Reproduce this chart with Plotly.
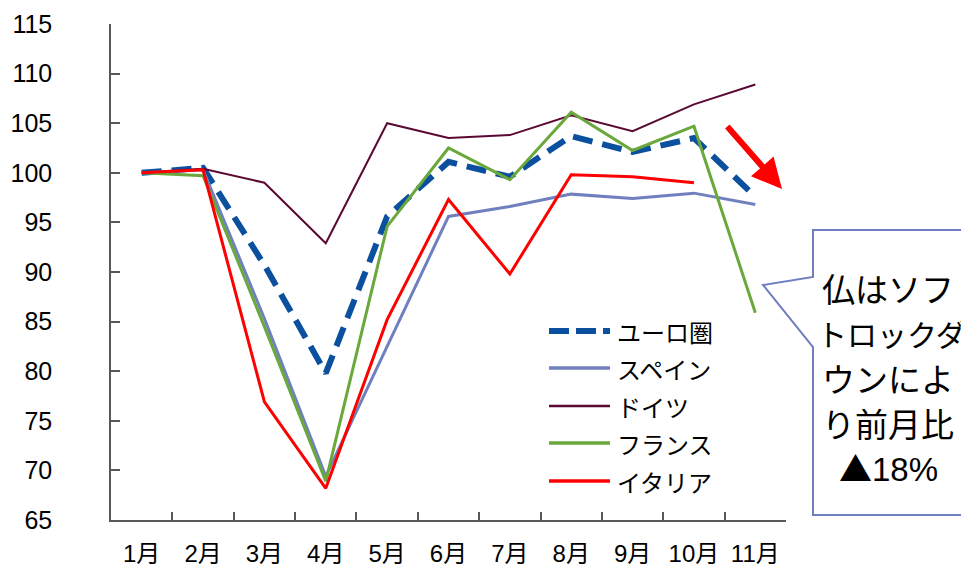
import plotly.graph_objects as go

# Monthly index, January = 100
months = ["1月", "2月", "3月", "4月", "5月", "6月", "7月", "8月", "9月", "10月", "11月"]

euro_area = [100.0, 100.5, 90.7, 79.8, 95.6, 101.1, 99.6, 103.7, 102.1, 103.5, 97.6]
spain = [100.0, 100.3, 85.3, 69.4, 82.5, 95.6, 96.6, 97.85, 97.4, 97.95, 96.8]
germany = [100.0, 100.4, 99.0, 92.9, 105.0, 103.5, 103.8, 105.8, 104.2, 106.9, 108.9]
france = [100.0, 99.7, 84.5, 68.9, 94.6, 102.5, 99.3, 106.1, 102.25, 104.7, 85.9]
italy = [100.0, 100.3, 76.9, 68.2, 85.2, 97.3, 89.8, 99.8, 99.6, 99.0, None]

series_names = ["ユーロ圏", "スペイン", "ドイツ", "フランス", "イタリア"]
series_values = [euro_area, spain, germany, france, italy]
series_colors = ["#0b4f9f", "#7080bf", "#5a0a32", "#6aa83c", "#ff0000"]
series_widths = [6, 3, 2, 3, 3]
series_dash = ["20px,10px", "solid", "solid", "solid", "solid"]

callout_lines = ["仏はソフ", "トロックダ", "ウンによ", "り前月比",
                 "<span style='font-family:Noto Sans CJK JP'>▲</span>18%"]

W, H = 961, 568
ML, MR, MT, MB = 111, 175, 24, 48
PW, PH = W - ML - MR, H - MT - MB


def px(x):
    return (x - ML) / PW


def py(y):
    return (H - MB - y) / PH


CJK = "Noto Sans CJK JP"
LATIN = "Liberation Sans, Arial, Noto Sans CJK JP"

fig = go.Figure()
for name, vals, col, wd, dsh in zip(series_names, series_values, series_colors,
                                    series_widths, series_dash):
    fig.add_trace(go.Scatter(
        x=months, y=vals, name=name, mode="lines",
        line=dict(color=col, width=wd, dash=dsh),
        connectgaps=False, showlegend=False,
    ))

# Hand-built legend box
legend_rows_y = [331, 368, 406, 443, 481]
legend_widths = [6, 3.5, 2.5, 3.5, 3.5]
shapes = []
annotations = []
for name, col, wd, dsh, ry in zip(series_names, series_colors, legend_widths,
                                  series_dash, legend_rows_y):
    shapes.append(dict(
        type="line", xref="paper", yref="paper",
        x0=px(549), x1=px(610), y0=py(ry), y1=py(ry),
        line=dict(color=col, width=wd,
                  dash="20px,7px" if dsh != "solid" else "solid"),
    ))
    annotations.append(dict(
        xref="paper", yref="paper", x=px(615), y=py(ry),
        xanchor="left", yanchor="middle", showarrow=False,
        text=name, font=dict(family=CJK, size=24, color="#000000"),
    ))

# Callout box with pointer
pts = [(813, 230), (975, 230), (975, 515), (813, 515), (813, 347), (763, 285), (813, 277)]
path = "M " + " L ".join(f"{px(x):.5f},{py(y):.5f}" for x, y in pts) + " Z"
shapes.append(dict(
    type="path", xref="paper", yref="paper", path=path,
    fillcolor="#ffffff", line=dict(color="#6f7fc0", width=2),
))
callout_y = [288, 333, 378, 423, 467]
for i, (line, ly) in enumerate(zip(callout_lines, callout_y)):
    if i == 1:
        annotations.append(dict(
            xref="paper", yref="paper", x=px(815), y=py(ly),
            xanchor="left", yanchor="middle", showarrow=False, text=line,
            font=dict(family=CJK, size=30, color="#000000"),
        ))
    else:
        annotations.append(dict(
            xref="paper", yref="paper", x=px(888), y=py(ly),
            xanchor="center", yanchor="middle", showarrow=False, text=line,
            font=dict(family=CJK if i < 4 else LATIN, size=33, color="#000000"),
        ))

# Red downward arrow
annotations.append(dict(
    xref="paper", yref="paper", x=px(782), y=py(189),
    ax=-56, ay=-64, axref="pixel", ayref="pixel",
    showarrow=True, arrowhead=2, arrowsize=1.0, arrowwidth=6,
    arrowcolor="#ff0000", text="",
))

fig.update_layout(
    width=W, height=H,
    margin=dict(l=ML, r=MR, t=MT, b=MB, pad=0, autoexpand=False),
    paper_bgcolor="#ffffff", plot_bgcolor="#ffffff",
    shapes=shapes, annotations=annotations,
    showlegend=False,
    xaxis=dict(
        type="category", tickson="boundaries", automargin=False,
        showgrid=False, zeroline=False,
        showline=True, linecolor="#595959", linewidth=1.5,
        ticks="inside", ticklen=8, tickcolor="#595959", tickwidth=1.5,
        tickfont=dict(family=LATIN, size=24, color="#000000"),
        tickangle=0, ticklabelstandoff=11,
        range=[-0.5, 10.5],
    ),
    yaxis=dict(
        range=[65, 115], dtick=5, tick0=65, automargin=False,
        showgrid=False, zeroline=False,
        showline=True, linecolor="#595959", linewidth=1.5,
        ticks="inside", ticklen=9, tickcolor="#595959", tickwidth=1.5,
        tickfont=dict(family=LATIN, size=25, color="#000000"),
        ticklabelstandoff=52,
    ),
)

fig.write_html("out.html")
